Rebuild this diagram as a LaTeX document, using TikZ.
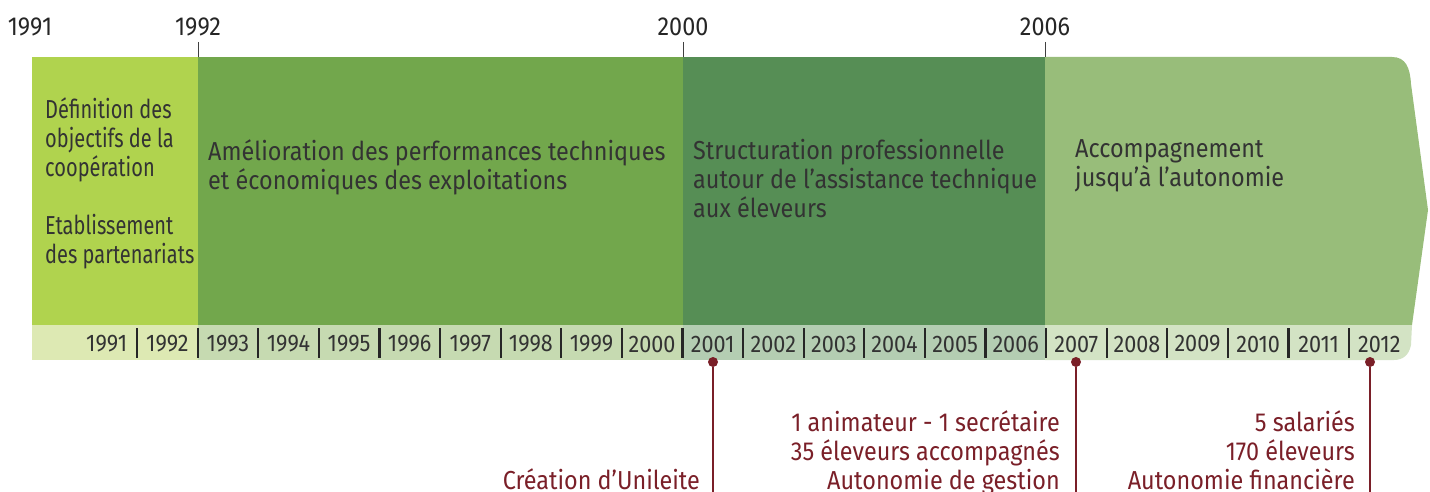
\documentclass[tikz,border=0pt]{standalone}
\usepackage{fontspec}
\setmainfont{Fira Sans}[FakeStretch=0.9]
\newfontfamily\narrowfont{Fira Sans}[FakeStretch=0.77]
\usetikzlibrary{positioning, calc}

\definecolor{pale}{HTML}{B0D34E}
\definecolor{grass}{HTML}{72A74C}
\definecolor{forest}{HTML}{568E55}
\definecolor{sage}{HTML}{98BD7A}
\definecolor{palestrip}{HTML}{DDE9B3}
\definecolor{grassstrip}{HTML}{C6DAB1}
\definecolor{foreststrip}{HTML}{B4CDB2}
\definecolor{sagestrip}{HTML}{D3E3C4}
\definecolor{wine}{HTML}{7A1F28}
\definecolor{ink}{HTML}{333333}

\begin{document}
\begin{tikzpicture}[x=1pt,y=-1pt,
  period/.style={anchor=north west,inner sep=0pt,align=left,text=ink,font=\fontsize{26}{29}\selectfont},
  yearlabel/.style={inner sep=0pt,text=ink,font=\fontsize{24}{24}\selectfont},
  milestone/.style={inner sep=0pt,text=black!85,font=\fontsize{26}{26}\selectfont},
  tick/.style={draw=black!75,line width=1pt},
  sep/.style={draw=black!85,line width=2.2pt},
  pin/.style={circle,fill=wine,inner sep=0pt,minimum size=10pt},
  stem/.style={draw=wine,line width=2.5pt},
  note/.style={anchor=north east,inner sep=0pt,align=right,text=wine,font=\fontsize{26}{29}\selectfont}]
        \useasboundingbox (0,0) rectangle (1430,492);
        % Periods
        \fill[pale] (32,57) rectangle (198,325);
        \fill[grass] (198,57) rectangle (683,325);
        \fill[forest] (683,57) rectangle (1045,325);
        \fill[sage] (1045,57) -- (1392,57) .. controls (1406,57) and (1410,68) .. (1411,84) -- (1428,210) -- (1412,325) -- (1045,325) -- cycle;
        % Year strip
        \fill[palestrip] (32,325) rectangle (198,360);
        \fill[grassstrip] (198,325) rectangle (683,360);
        \fill[foreststrip] (683,325) rectangle (1045,360);
        \fill[sagestrip] (1045,325) -- (1412,325) -- (1411,345) .. controls (1409,355) and (1403,360) .. (1394,360) -- (1045,360) -- cycle;
        \foreach \i in {0,...,20}
          \draw[sep] (137+60.6*\i,328) -- (137+60.6*\i,358);
        \foreach \yr [count=\i from 0] in {1991,...,2012}
          \node[yearlabel] (y\yr) at (106.7+60.6*\i,344) {\yr};
        % Milestone years on top
        \node[milestone] (t1991) at (30,27) {1991};
        \node[milestone] (t1992) at (198,27) {1992};
        \node[milestone] (t2000) at (683,27) {2000};
        \node[milestone] (t2006) at (1045,27) {2006};
        \draw[tick] (198,42) -- (198,57) (683,42) -- (683,57) (1045,42) -- (1045,57);
        % Period texts
        \node[period,font=\narrowfont\fontsize{26}{29}\selectfont] (p1991) at (45,97) {Définition des\\objectifs de la\\coopération\\[29pt]Etablissement\\des partenariats};
        \node[period] (p1992) at (208,139) {Amélioration des performances techniques\\et économiques des exploitations};
        \node[period] (p2000) at (693,139) {Structuration professionnelle\\autour de l’assistance technique\\aux éleveurs};
        \node[period] (p2006) at (1075,139) {Accompagnement\\jusqu’à l’autonomie};
        % Events
        \node[pin] (m2001) at (713,362) {};
        \node[pin] (m2007) at (1076,362) {};
        \node[pin] (m2012) at (1370,362) {};
        \coordinate (e2001) at (713,492);
        \coordinate (e2007) at (1076,492);
        \coordinate (e2012) at (1370,492);
        \draw[stem] (m2001) -- (e2001);
        \draw[stem] (m2007) -- (e2007);
        \draw[stem] (m2012) -- (e2012);
        \node[note] (n2001) at (700,468) {Création d’Unileite};
        \node[note] (n2007) at (1060,410) {1 animateur - 1 secrétaire\\35 éleveurs accompagnés\\Autonomie de gestion};
        \node[note] (n2012) at (1355,410) {5 salariés\\170 éleveurs\\Autonomie financière};
\end{tikzpicture}
\end{document}
